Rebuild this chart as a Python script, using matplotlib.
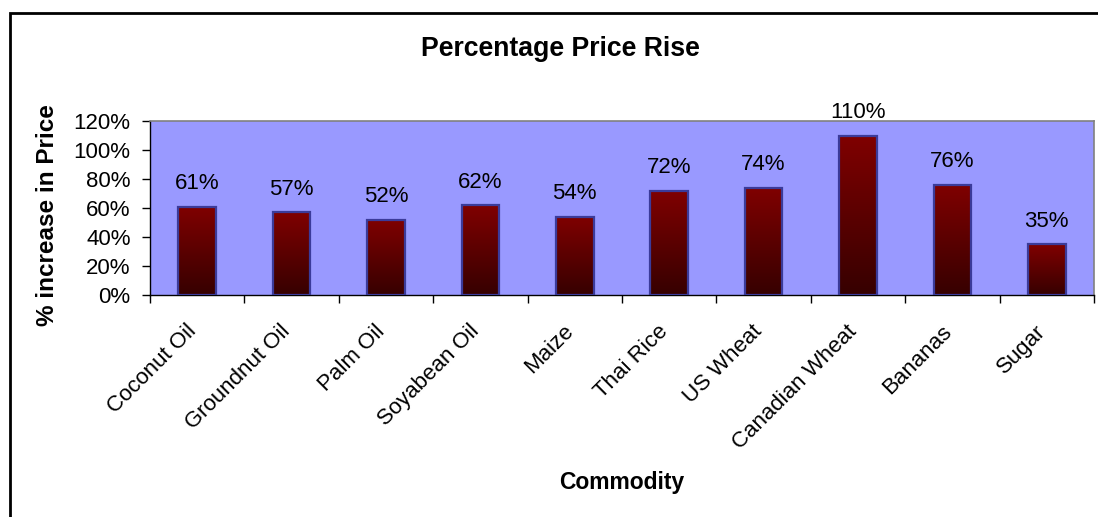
import matplotlib
matplotlib.use("Agg")
import matplotlib.pyplot as plt
import numpy as np
from matplotlib.patches import Rectangle
from matplotlib.colors import LinearSegmentedColormap

plt.rcParams['font.family'] = ['Liberation Sans', 'DejaVu Sans']

commodities = ["Coconut Oil", "Groundnut Oil", "Palm Oil", "Soyabean Oil", "Maize",
               "Thai Rice", "US Wheat", "Canadian Wheat", "Bananas", "Sugar"]
rise_pct = [61, 57, 52, 62, 54, 72, 74, 110, 76, 35]
y_ticks = [0, 20, 40, 60, 80, 100, 120]

W, H = 1098, 517
fig = plt.figure(figsize=(W / 100, H / 100), dpi=100)

# outer chart frame (runs past the right and bottom edges)
fig.patches.append(Rectangle((10 / W, -0.1), 1.2, 1 - 13 / H + 0.1,
                             transform=fig.transFigure, fill=False,
                             edgecolor='black', linewidth=2, zorder=0))

ax = fig.add_axes([150 / W, 1 - 295 / H, (1094 - 150) / W, (295 - 121) / H])
ax.set_facecolor('#9999FF')

for side in ('top', 'right'):
    ax.spines[side].set_color('#808080')
    ax.spines[side].set_linewidth(1.2)
for side in ('left', 'bottom'):
    ax.spines[side].set_color('black')
    ax.spines[side].set_linewidth(1.0)

# dark-red vertical gradient for each bar
cmap = LinearSegmentedColormap.from_list('bar', ['#360000', '#800000'])
grad = np.linspace(0, 1, 256).reshape(-1, 1)
bw = 0.4
for i, v in enumerate(rise_pct):
    ax.imshow(grad, cmap=cmap, origin='lower', aspect='auto',
              extent=[i - bw / 2, i + bw / 2, 0, v], zorder=2, interpolation='bilinear')
    ax.bar(i, v, width=bw, facecolor='none', edgecolor='#3B3B9A', linewidth=1.6, zorder=3)
    ax.annotate(f"{v}%", xy=(i, v), xytext=(0, 9), textcoords='offset points',
                ha='center', va='bottom', fontsize=16, zorder=4)
ax.set_xlim(-0.5, len(commodities) - 0.5)
ax.set_ylim(0, 120)

ax.set_yticks(y_ticks)
ax.set_yticklabels([f"{t}%" for t in y_ticks], fontsize=16)
ax.tick_params(axis='y', length=6, width=1, pad=8, direction='out')

ax.set_xticks(np.arange(-0.5, len(commodities), 1.0))
ax.set_xticklabels([])
ax.tick_params(axis='x', length=6, width=1, direction='out')

for i, name in enumerate(commodities):
    ax.annotate(name, xy=(i, 0), xycoords=('data', 'axes fraction'),
                xytext=(-3, -24), textcoords='offset points',
                ha='right', va='center', rotation=45, rotation_mode='anchor',
                fontsize=16)

fig.text(560 / W, 1 - 49 / H, "Percentage Price Rise", ha='center', va='center',
         fontsize=19.2, fontweight='bold')
fig.text(622 / W, 1 - 483 / H, "Commodity", ha='center', va='center',
         fontsize=16.5, fontweight='bold')
fig.text(48 / W, 1 - 215 / H, "% increase in Price", ha='center', va='center',
         rotation=90, fontsize=17.5, fontweight='bold')

fig.savefig("out.png", dpi=100)
